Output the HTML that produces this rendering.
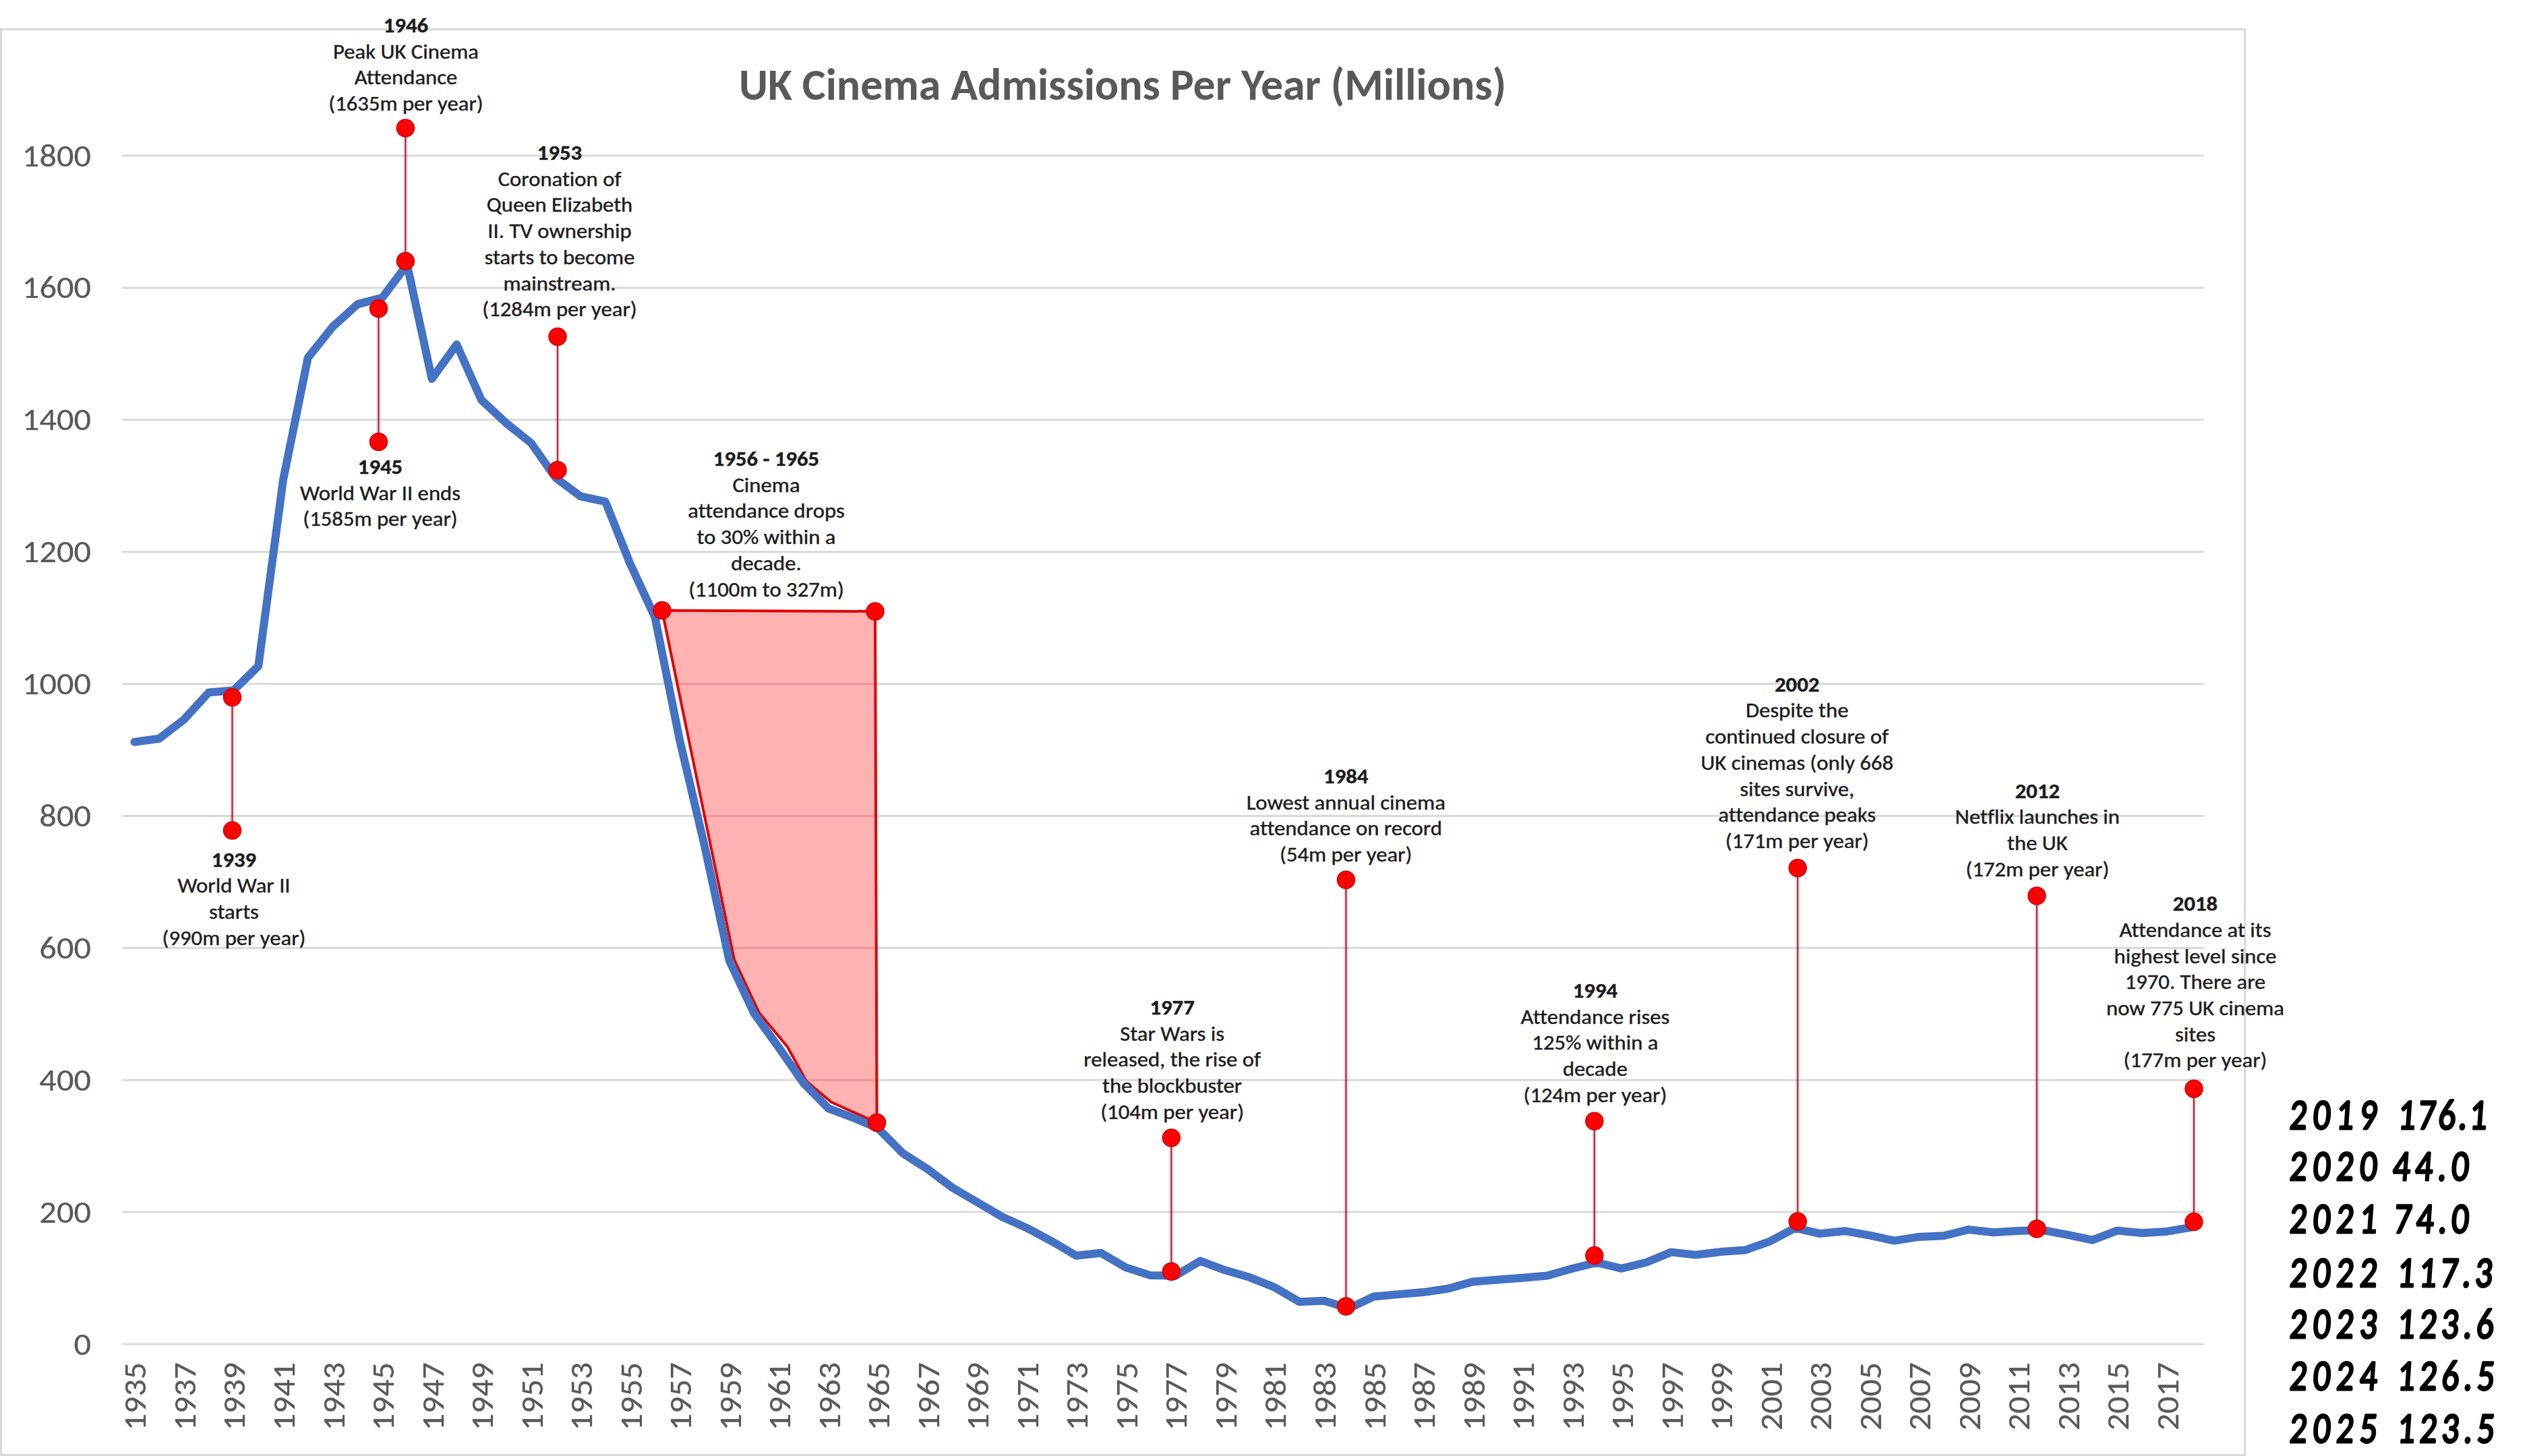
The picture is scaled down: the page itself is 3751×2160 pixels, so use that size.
<!DOCTYPE html>
<html><head><meta charset="utf-8"><title>UK Cinema Admissions Per Year</title>
<style>html,body{margin:0;padding:0;background:#fff;}body{width:3751px;height:2160px;overflow:hidden;}svg{display:block;}text{font-variant-ligatures:none;font-feature-settings:"liga" 0,"clig" 0;}</style>
</head><body>
<svg width="3751" height="2160" viewBox="0 0 3751 2160">
<rect x="1.5" y="43.5" width="3328" height="2115" fill="#fff" stroke="#d9d9d9" stroke-width="3"/>
<line x1="181.0" y1="1994.0" x2="3269.0" y2="1994.0" stroke="#d9d9d9" stroke-width="3"/>
<line x1="181.0" y1="1798.1" x2="3269.0" y2="1798.1" stroke="#d9d9d9" stroke-width="3"/>
<line x1="181.0" y1="1602.2" x2="3269.0" y2="1602.2" stroke="#d9d9d9" stroke-width="3"/>
<line x1="181.0" y1="1406.3" x2="3269.0" y2="1406.3" stroke="#d9d9d9" stroke-width="3"/>
<line x1="181.0" y1="1210.4" x2="3269.0" y2="1210.4" stroke="#d9d9d9" stroke-width="3"/>
<line x1="181.0" y1="1014.6" x2="3269.0" y2="1014.6" stroke="#d9d9d9" stroke-width="3"/>
<line x1="181.0" y1="818.7" x2="3269.0" y2="818.7" stroke="#d9d9d9" stroke-width="3"/>
<line x1="181.0" y1="622.8" x2="3269.0" y2="622.8" stroke="#d9d9d9" stroke-width="3"/>
<line x1="181.0" y1="426.9" x2="3269.0" y2="426.9" stroke="#d9d9d9" stroke-width="3"/>
<line x1="181.0" y1="231.0" x2="3269.0" y2="231.0" stroke="#d9d9d9" stroke-width="3"/>
<g font-family="Carlito, 'Liberation Sans', sans-serif" font-size="48" fill="#595959" text-anchor="end" stroke="#595959" stroke-width="0.2">
<text transform="translate(135,2009.5) scale(1.05,1)" textLength="24.3" lengthAdjust="spacingAndGlyphs">0</text>
<text transform="translate(135,1813.6) scale(1.05,1)" textLength="73.0" lengthAdjust="spacingAndGlyphs">200</text>
<text transform="translate(135,1617.7) scale(1.05,1)" textLength="73.0" lengthAdjust="spacingAndGlyphs">400</text>
<text transform="translate(135,1421.8) scale(1.05,1)" textLength="73.0" lengthAdjust="spacingAndGlyphs">600</text>
<text transform="translate(135,1225.9) scale(1.05,1)" textLength="73.0" lengthAdjust="spacingAndGlyphs">800</text>
<text transform="translate(135,1030.1) scale(1.05,1)" textLength="97.3" lengthAdjust="spacingAndGlyphs">1000</text>
<text transform="translate(135,834.2) scale(1.05,1)" textLength="97.3" lengthAdjust="spacingAndGlyphs">1200</text>
<text transform="translate(135,638.3) scale(1.05,1)" textLength="97.3" lengthAdjust="spacingAndGlyphs">1400</text>
<text transform="translate(135,442.4) scale(1.05,1)" textLength="97.3" lengthAdjust="spacingAndGlyphs">1600</text>
<text transform="translate(135,246.5) scale(1.05,1)" textLength="97.3" lengthAdjust="spacingAndGlyphs">1800</text>
</g>
<g font-family="Carlito, 'Liberation Sans', sans-serif" font-size="48" fill="#595959" text-anchor="end" stroke="#595959" stroke-width="0.2">
<text transform="translate(216.4,2021) rotate(-90) scale(1.04,1)" textLength="97.3" lengthAdjust="spacingAndGlyphs">1935</text>
<text transform="translate(289.9,2021) rotate(-90) scale(1.04,1)" textLength="97.3" lengthAdjust="spacingAndGlyphs">1937</text>
<text transform="translate(363.4,2021) rotate(-90) scale(1.04,1)" textLength="97.3" lengthAdjust="spacingAndGlyphs">1939</text>
<text transform="translate(437.0,2021) rotate(-90) scale(1.04,1)" textLength="97.3" lengthAdjust="spacingAndGlyphs">1941</text>
<text transform="translate(510.5,2021) rotate(-90) scale(1.04,1)" textLength="97.3" lengthAdjust="spacingAndGlyphs">1943</text>
<text transform="translate(584.0,2021) rotate(-90) scale(1.04,1)" textLength="97.3" lengthAdjust="spacingAndGlyphs">1945</text>
<text transform="translate(657.5,2021) rotate(-90) scale(1.04,1)" textLength="97.3" lengthAdjust="spacingAndGlyphs">1947</text>
<text transform="translate(731.0,2021) rotate(-90) scale(1.04,1)" textLength="97.3" lengthAdjust="spacingAndGlyphs">1949</text>
<text transform="translate(804.6,2021) rotate(-90) scale(1.04,1)" textLength="97.3" lengthAdjust="spacingAndGlyphs">1951</text>
<text transform="translate(878.1,2021) rotate(-90) scale(1.04,1)" textLength="97.3" lengthAdjust="spacingAndGlyphs">1953</text>
<text transform="translate(951.6,2021) rotate(-90) scale(1.04,1)" textLength="97.3" lengthAdjust="spacingAndGlyphs">1955</text>
<text transform="translate(1025.1,2021) rotate(-90) scale(1.04,1)" textLength="97.3" lengthAdjust="spacingAndGlyphs">1957</text>
<text transform="translate(1098.7,2021) rotate(-90) scale(1.04,1)" textLength="97.3" lengthAdjust="spacingAndGlyphs">1959</text>
<text transform="translate(1172.2,2021) rotate(-90) scale(1.04,1)" textLength="97.3" lengthAdjust="spacingAndGlyphs">1961</text>
<text transform="translate(1245.7,2021) rotate(-90) scale(1.04,1)" textLength="97.3" lengthAdjust="spacingAndGlyphs">1963</text>
<text transform="translate(1319.2,2021) rotate(-90) scale(1.04,1)" textLength="97.3" lengthAdjust="spacingAndGlyphs">1965</text>
<text transform="translate(1392.8,2021) rotate(-90) scale(1.04,1)" textLength="97.3" lengthAdjust="spacingAndGlyphs">1967</text>
<text transform="translate(1466.3,2021) rotate(-90) scale(1.04,1)" textLength="97.3" lengthAdjust="spacingAndGlyphs">1969</text>
<text transform="translate(1539.8,2021) rotate(-90) scale(1.04,1)" textLength="97.3" lengthAdjust="spacingAndGlyphs">1971</text>
<text transform="translate(1613.3,2021) rotate(-90) scale(1.04,1)" textLength="97.3" lengthAdjust="spacingAndGlyphs">1973</text>
<text transform="translate(1686.9,2021) rotate(-90) scale(1.04,1)" textLength="97.3" lengthAdjust="spacingAndGlyphs">1975</text>
<text transform="translate(1760.4,2021) rotate(-90) scale(1.04,1)" textLength="97.3" lengthAdjust="spacingAndGlyphs">1977</text>
<text transform="translate(1833.9,2021) rotate(-90) scale(1.04,1)" textLength="97.3" lengthAdjust="spacingAndGlyphs">1979</text>
<text transform="translate(1907.4,2021) rotate(-90) scale(1.04,1)" textLength="97.3" lengthAdjust="spacingAndGlyphs">1981</text>
<text transform="translate(1981.0,2021) rotate(-90) scale(1.04,1)" textLength="97.3" lengthAdjust="spacingAndGlyphs">1983</text>
<text transform="translate(2054.5,2021) rotate(-90) scale(1.04,1)" textLength="97.3" lengthAdjust="spacingAndGlyphs">1985</text>
<text transform="translate(2128.0,2021) rotate(-90) scale(1.04,1)" textLength="97.3" lengthAdjust="spacingAndGlyphs">1987</text>
<text transform="translate(2201.5,2021) rotate(-90) scale(1.04,1)" textLength="97.3" lengthAdjust="spacingAndGlyphs">1989</text>
<text transform="translate(2275.0,2021) rotate(-90) scale(1.04,1)" textLength="97.3" lengthAdjust="spacingAndGlyphs">1991</text>
<text transform="translate(2348.6,2021) rotate(-90) scale(1.04,1)" textLength="97.3" lengthAdjust="spacingAndGlyphs">1993</text>
<text transform="translate(2422.1,2021) rotate(-90) scale(1.04,1)" textLength="97.3" lengthAdjust="spacingAndGlyphs">1995</text>
<text transform="translate(2495.6,2021) rotate(-90) scale(1.04,1)" textLength="97.3" lengthAdjust="spacingAndGlyphs">1997</text>
<text transform="translate(2569.1,2021) rotate(-90) scale(1.04,1)" textLength="97.3" lengthAdjust="spacingAndGlyphs">1999</text>
<text transform="translate(2642.7,2021) rotate(-90) scale(1.04,1)" textLength="97.3" lengthAdjust="spacingAndGlyphs">2001</text>
<text transform="translate(2716.2,2021) rotate(-90) scale(1.04,1)" textLength="97.3" lengthAdjust="spacingAndGlyphs">2003</text>
<text transform="translate(2789.7,2021) rotate(-90) scale(1.04,1)" textLength="97.3" lengthAdjust="spacingAndGlyphs">2005</text>
<text transform="translate(2863.2,2021) rotate(-90) scale(1.04,1)" textLength="97.3" lengthAdjust="spacingAndGlyphs">2007</text>
<text transform="translate(2936.8,2021) rotate(-90) scale(1.04,1)" textLength="97.3" lengthAdjust="spacingAndGlyphs">2009</text>
<text transform="translate(3010.3,2021) rotate(-90) scale(1.04,1)" textLength="97.3" lengthAdjust="spacingAndGlyphs">2011</text>
<text transform="translate(3083.8,2021) rotate(-90) scale(1.04,1)" textLength="97.3" lengthAdjust="spacingAndGlyphs">2013</text>
<text transform="translate(3157.3,2021) rotate(-90) scale(1.04,1)" textLength="97.3" lengthAdjust="spacingAndGlyphs">2015</text>
<text transform="translate(3230.9,2021) rotate(-90) scale(1.04,1)" textLength="97.3" lengthAdjust="spacingAndGlyphs">2017</text>
</g>
<text x="1665" y="147.5" font-family="Carlito, 'Liberation Sans', sans-serif" font-size="67" font-weight="bold" fill="#595959" text-anchor="middle" textLength="1138" lengthAdjust="spacingAndGlyphs">UK Cinema Admissions Per Year (Millions)</text>
<polygon points="982,905.5 1298,907 1300.6,1665.5 1233,1635 1196,1604 1168,1553 1126,1502.5 1089,1423.7" fill="#ff0000" fill-opacity="0.3" stroke="#e00000" stroke-width="4" stroke-linejoin="round"/>
<polyline points="199.4,1100.7 236.1,1095.8 272.9,1067.4 309.7,1027.3 346.4,1024.3 383.2,988.1 420.0,711.9 456.7,530.7 493.5,484.7 530.2,451.4 567.0,441.6 603.8,392.6 640.5,562.1 677.3,511.1 714.0,593.4 750.8,627.7 787.6,657.1 824.3,709.0 861.1,736.4 897.9,744.2 934.6,836.3 971.4,915.6 1008.1,1097.8 1044.9,1254.5 1081.7,1424.9 1118.4,1503.3 1155.2,1554.2 1192.0,1607.1 1228.7,1644.3 1265.5,1658.1 1302.2,1673.7 1339.0,1710.9 1375.8,1734.4 1412.5,1761.9 1449.3,1783.4 1486.0,1805.0 1522.8,1821.6 1559.6,1841.2 1596.3,1862.8 1633.1,1858.8 1669.9,1880.4 1706.6,1892.1 1743.4,1892.6 1780.1,1870.6 1816.9,1884.3 1853.7,1895.1 1890.4,1909.8 1927.2,1931.3 1964.0,1929.7 2000.7,1941.1 2037.5,1923.5 2074.2,1920.1 2111.0,1917.1 2147.8,1911.7 2184.5,1901.4 2221.3,1898.6 2258.0,1895.8 2294.8,1892.5 2331.6,1882.0 2368.3,1873.0 2405.1,1881.8 2441.9,1872.7 2478.6,1857.6 2515.4,1861.6 2552.1,1857.1 2588.9,1854.4 2625.7,1841.3 2662.4,1821.7 2699.2,1830.1 2736.0,1826.2 2772.7,1832.7 2809.5,1840.6 2846.2,1834.9 2883.0,1833.2 2919.8,1824.1 2956.5,1828.3 2993.3,1825.9 3030.0,1825.0 3066.8,1831.9 3103.6,1839.7 3140.3,1825.6 3177.1,1829.2 3213.9,1826.9 3250.6,1820.6" fill="none" stroke="#4472c4" stroke-width="12" stroke-linejoin="round" stroke-linecap="round"/>
<line x1="344.5" y1="1034.5" x2="344.5" y2="1232" stroke="#f03030" stroke-opacity="0.18" stroke-width="7"/>
<line x1="344.5" y1="1034.5" x2="344.5" y2="1232" stroke="#8e3446" stroke-width="2.2"/>
<line x1="561.5" y1="457.7" x2="561.5" y2="655.5" stroke="#f03030" stroke-opacity="0.18" stroke-width="7"/>
<line x1="561.5" y1="457.7" x2="561.5" y2="655.5" stroke="#8e3446" stroke-width="2.2"/>
<line x1="601.4" y1="190" x2="601.4" y2="387.4" stroke="#f03030" stroke-opacity="0.18" stroke-width="7"/>
<line x1="601.4" y1="190" x2="601.4" y2="387.4" stroke="#8e3446" stroke-width="2.2"/>
<line x1="827" y1="499.5" x2="827" y2="697.5" stroke="#f03030" stroke-opacity="0.18" stroke-width="7"/>
<line x1="827" y1="499.5" x2="827" y2="697.5" stroke="#8e3446" stroke-width="2.2"/>
<line x1="1737.3" y1="1688" x2="1737.3" y2="1886.3" stroke="#f03030" stroke-opacity="0.18" stroke-width="7"/>
<line x1="1737.3" y1="1688" x2="1737.3" y2="1886.3" stroke="#8e3446" stroke-width="2.2"/>
<line x1="1996.4" y1="1305.3" x2="1996.4" y2="1938" stroke="#f03030" stroke-opacity="0.18" stroke-width="7"/>
<line x1="1996.4" y1="1305.3" x2="1996.4" y2="1938" stroke="#8e3446" stroke-width="2.2"/>
<line x1="2364.8" y1="1663.3" x2="2364.8" y2="1862.6" stroke="#f03030" stroke-opacity="0.18" stroke-width="7"/>
<line x1="2364.8" y1="1663.3" x2="2364.8" y2="1862.6" stroke="#8e3446" stroke-width="2.2"/>
<line x1="2666.3" y1="1287.7" x2="2666.3" y2="1812" stroke="#f03030" stroke-opacity="0.18" stroke-width="7"/>
<line x1="2666.3" y1="1287.7" x2="2666.3" y2="1812" stroke="#8e3446" stroke-width="2.2"/>
<line x1="3021" y1="1329" x2="3021" y2="1823" stroke="#f03030" stroke-opacity="0.18" stroke-width="7"/>
<line x1="3021" y1="1329" x2="3021" y2="1823" stroke="#8e3446" stroke-width="2.2"/>
<line x1="3254" y1="1615.2" x2="3254" y2="1812.6" stroke="#f03030" stroke-opacity="0.18" stroke-width="7"/>
<line x1="3254" y1="1615.2" x2="3254" y2="1812.6" stroke="#8e3446" stroke-width="2.2"/>
<circle cx="344.5" cy="1034.5" r="13" fill="#ff0000" stroke="#d00000" stroke-width="1.5"/>
<circle cx="344.5" cy="1232" r="13" fill="#ff0000" stroke="#d00000" stroke-width="1.5"/>
<circle cx="561.5" cy="457.7" r="13" fill="#ff0000" stroke="#d00000" stroke-width="1.5"/>
<circle cx="561.5" cy="655.5" r="13" fill="#ff0000" stroke="#d00000" stroke-width="1.5"/>
<circle cx="601.4" cy="190" r="13" fill="#ff0000" stroke="#d00000" stroke-width="1.5"/>
<circle cx="601.4" cy="387.4" r="13" fill="#ff0000" stroke="#d00000" stroke-width="1.5"/>
<circle cx="827" cy="499.5" r="13" fill="#ff0000" stroke="#d00000" stroke-width="1.5"/>
<circle cx="827" cy="697.5" r="13" fill="#ff0000" stroke="#d00000" stroke-width="1.5"/>
<circle cx="1737.3" cy="1688" r="13" fill="#ff0000" stroke="#d00000" stroke-width="1.5"/>
<circle cx="1737.3" cy="1886.3" r="13" fill="#ff0000" stroke="#d00000" stroke-width="1.5"/>
<circle cx="1996.4" cy="1305.3" r="13" fill="#ff0000" stroke="#d00000" stroke-width="1.5"/>
<circle cx="1996.4" cy="1938" r="13" fill="#ff0000" stroke="#d00000" stroke-width="1.5"/>
<circle cx="2364.8" cy="1663.3" r="13" fill="#ff0000" stroke="#d00000" stroke-width="1.5"/>
<circle cx="2364.8" cy="1862.6" r="13" fill="#ff0000" stroke="#d00000" stroke-width="1.5"/>
<circle cx="2666.3" cy="1287.7" r="13" fill="#ff0000" stroke="#d00000" stroke-width="1.5"/>
<circle cx="2666.3" cy="1812" r="13" fill="#ff0000" stroke="#d00000" stroke-width="1.5"/>
<circle cx="3021" cy="1329" r="13" fill="#ff0000" stroke="#d00000" stroke-width="1.5"/>
<circle cx="3021" cy="1823" r="13" fill="#ff0000" stroke="#d00000" stroke-width="1.5"/>
<circle cx="3254" cy="1615.2" r="13" fill="#ff0000" stroke="#d00000" stroke-width="1.5"/>
<circle cx="3254" cy="1812.6" r="13" fill="#ff0000" stroke="#d00000" stroke-width="1.5"/>
<circle cx="982" cy="905.5" r="13" fill="#ff0000" stroke="#d00000" stroke-width="1.5"/>
<circle cx="1298" cy="907" r="13" fill="#ff0000" stroke="#d00000" stroke-width="1.5"/>
<circle cx="1300.6" cy="1665.5" r="13" fill="#ff0000" stroke="#d00000" stroke-width="1.5"/>
<g font-family="Carlito, 'Liberation Sans', sans-serif" font-size="30" fill="#1c1c1c" text-anchor="middle" stroke="#1c1c1c" stroke-width="0.4">
<text transform="translate(602,48.0) scale(1.09,1)" font-weight="bold" textLength="60.8" lengthAdjust="spacingAndGlyphs">1946</text>
<text transform="translate(602,86.7) scale(1.09,1)" textLength="198.0" lengthAdjust="spacingAndGlyphs">Peak UK Cinema</text>
<text transform="translate(602,125.4) scale(1.09,1)" textLength="140.1" lengthAdjust="spacingAndGlyphs">Attendance</text>
<text transform="translate(602,164.1) scale(1.09,1)" textLength="210.5" lengthAdjust="spacingAndGlyphs">(1635m per year)</text>
<text transform="translate(830,237.0) scale(1.09,1)" font-weight="bold" textLength="60.8" lengthAdjust="spacingAndGlyphs">1953</text>
<text transform="translate(830,275.7) scale(1.09,1)" textLength="167.6" lengthAdjust="spacingAndGlyphs">Coronation of</text>
<text transform="translate(830,314.4) scale(1.09,1)" textLength="198.7" lengthAdjust="spacingAndGlyphs">Queen Elizabeth</text>
<text transform="translate(830,353.1) scale(1.09,1)" textLength="195.7" lengthAdjust="spacingAndGlyphs">II. TV ownership</text>
<text transform="translate(830,391.8) scale(1.09,1)" textLength="204.6" lengthAdjust="spacingAndGlyphs">starts to become</text>
<text transform="translate(830,430.5) scale(1.09,1)" textLength="153.2" lengthAdjust="spacingAndGlyphs">mainstream.</text>
<text transform="translate(830,469.2) scale(1.09,1)" textLength="210.5" lengthAdjust="spacingAndGlyphs">(1284m per year)</text>
<text transform="translate(564,703.0) scale(1.09,1)" font-weight="bold" textLength="60.8" lengthAdjust="spacingAndGlyphs">1945</text>
<text transform="translate(564,741.7) scale(1.09,1)" textLength="218.4" lengthAdjust="spacingAndGlyphs">World War II ends</text>
<text transform="translate(564,780.4) scale(1.09,1)" textLength="210.5" lengthAdjust="spacingAndGlyphs">(1585m per year)</text>
<text transform="translate(347,1285.5) scale(1.09,1)" font-weight="bold" textLength="60.8" lengthAdjust="spacingAndGlyphs">1939</text>
<text transform="translate(347,1324.2) scale(1.09,1)" textLength="153.4" lengthAdjust="spacingAndGlyphs">World War II</text>
<text transform="translate(347,1362.9) scale(1.09,1)" textLength="67.7" lengthAdjust="spacingAndGlyphs">starts</text>
<text transform="translate(347,1401.6) scale(1.09,1)" textLength="195.3" lengthAdjust="spacingAndGlyphs">(990m per year)</text>
<text transform="translate(1136.5,691.0) scale(1.09,1)" font-weight="bold" textLength="144.3" lengthAdjust="spacingAndGlyphs">1956 - 1965</text>
<text transform="translate(1136.5,729.7) scale(1.09,1)" textLength="91.9" lengthAdjust="spacingAndGlyphs">Cinema</text>
<text transform="translate(1136.5,768.4) scale(1.09,1)" textLength="213.2" lengthAdjust="spacingAndGlyphs">attendance drops</text>
<text transform="translate(1136.5,807.1) scale(1.09,1)" textLength="188.8" lengthAdjust="spacingAndGlyphs">to 30% within a</text>
<text transform="translate(1136.5,845.8) scale(1.09,1)" textLength="95.7" lengthAdjust="spacingAndGlyphs">decade.</text>
<text transform="translate(1136.5,884.5) scale(1.09,1)" textLength="211.6" lengthAdjust="spacingAndGlyphs">(1100m to 327m)</text>
<text transform="translate(1738.6,1505.0) scale(1.09,1)" font-weight="bold" textLength="60.8" lengthAdjust="spacingAndGlyphs">1977</text>
<text transform="translate(1738.6,1543.7) scale(1.09,1)" textLength="142.1" lengthAdjust="spacingAndGlyphs">Star Wars is</text>
<text transform="translate(1738.6,1582.4) scale(1.09,1)" textLength="241.0" lengthAdjust="spacingAndGlyphs">released, the rise of</text>
<text transform="translate(1738.6,1621.1) scale(1.09,1)" textLength="190.2" lengthAdjust="spacingAndGlyphs">the blockbuster</text>
<text transform="translate(1738.6,1659.8) scale(1.09,1)" textLength="195.3" lengthAdjust="spacingAndGlyphs">(104m per year)</text>
<text transform="translate(1996.2,1161.8) scale(1.09,1)" font-weight="bold" textLength="60.8" lengthAdjust="spacingAndGlyphs">1984</text>
<text transform="translate(1996.2,1200.5) scale(1.09,1)" textLength="270.8" lengthAdjust="spacingAndGlyphs">Lowest annual cinema</text>
<text transform="translate(1996.2,1239.2) scale(1.09,1)" textLength="261.7" lengthAdjust="spacingAndGlyphs">attendance on record</text>
<text transform="translate(1996.2,1277.9) scale(1.09,1)" textLength="180.1" lengthAdjust="spacingAndGlyphs">(54m per year)</text>
<text transform="translate(2365.9,1480.0) scale(1.09,1)" font-weight="bold" textLength="60.8" lengthAdjust="spacingAndGlyphs">1994</text>
<text transform="translate(2365.9,1518.7) scale(1.09,1)" textLength="202.5" lengthAdjust="spacingAndGlyphs">Attendance rises</text>
<text transform="translate(2365.9,1557.4) scale(1.09,1)" textLength="171.7" lengthAdjust="spacingAndGlyphs">125% within a</text>
<text transform="translate(2365.9,1596.1) scale(1.09,1)" textLength="88.1" lengthAdjust="spacingAndGlyphs">decade</text>
<text transform="translate(2365.9,1634.8) scale(1.09,1)" textLength="195.3" lengthAdjust="spacingAndGlyphs">(124m per year)</text>
<text transform="translate(2665.4,1025.7) scale(1.09,1)" font-weight="bold" textLength="60.8" lengthAdjust="spacingAndGlyphs">2002</text>
<text transform="translate(2665.4,1064.4) scale(1.09,1)" textLength="139.9" lengthAdjust="spacingAndGlyphs">Despite the</text>
<text transform="translate(2665.4,1103.1) scale(1.09,1)" textLength="249.2" lengthAdjust="spacingAndGlyphs">continued closure of</text>
<text transform="translate(2665.4,1141.8) scale(1.09,1)" textLength="262.1" lengthAdjust="spacingAndGlyphs">UK cinemas (only 668</text>
<text transform="translate(2665.4,1180.5) scale(1.09,1)" textLength="156.0" lengthAdjust="spacingAndGlyphs">sites survive,</text>
<text transform="translate(2665.4,1219.2) scale(1.09,1)" textLength="214.4" lengthAdjust="spacingAndGlyphs">attendance peaks</text>
<text transform="translate(2665.4,1257.9) scale(1.09,1)" textLength="195.3" lengthAdjust="spacingAndGlyphs">(171m per year)</text>
<text transform="translate(3021.9,1183.5) scale(1.09,1)" font-weight="bold" textLength="60.8" lengthAdjust="spacingAndGlyphs">2012</text>
<text transform="translate(3021.9,1222.2) scale(1.09,1)" textLength="224.1" lengthAdjust="spacingAndGlyphs">Netflix launches in</text>
<text transform="translate(3021.9,1260.9) scale(1.09,1)" textLength="82.3" lengthAdjust="spacingAndGlyphs">the UK</text>
<text transform="translate(3021.9,1299.6) scale(1.09,1)" textLength="195.3" lengthAdjust="spacingAndGlyphs">(172m per year)</text>
<text transform="translate(3256,1351.2) scale(1.09,1)" font-weight="bold" textLength="60.8" lengthAdjust="spacingAndGlyphs">2018</text>
<text transform="translate(3256,1389.9) scale(1.09,1)" textLength="206.4" lengthAdjust="spacingAndGlyphs">Attendance at its</text>
<text transform="translate(3256,1428.6) scale(1.09,1)" textLength="221.1" lengthAdjust="spacingAndGlyphs">highest level since</text>
<text transform="translate(3256,1467.3) scale(1.09,1)" textLength="191.5" lengthAdjust="spacingAndGlyphs">1970. There are</text>
<text transform="translate(3256,1506.0) scale(1.09,1)" textLength="242.1" lengthAdjust="spacingAndGlyphs">now 775 UK cinema</text>
<text transform="translate(3256,1544.7) scale(1.09,1)" textLength="55.0" lengthAdjust="spacingAndGlyphs">sites</text>
<text transform="translate(3256,1583.4) scale(1.09,1)" textLength="195.3" lengthAdjust="spacingAndGlyphs">(177m per year)</text>
</g>
<g font-family="Carlito, 'Liberation Sans', sans-serif" font-size="64" fill="#000" stroke="#000" stroke-width="3.2" stroke-linejoin="round">
<text transform="translate(3395,1675.2) skewX(-4) scale(0.8,1)" textLength="162.5" lengthAdjust="spacing">2019</text>
<text transform="translate(3556,1675.2) skewX(-4) scale(0.8,1)" textLength="165.0" lengthAdjust="spacing">176.1</text>
<text transform="translate(3395,1751.2) skewX(-4) scale(0.8,1)" textLength="162.5" lengthAdjust="spacing">2020</text>
<text transform="translate(3548,1751.2) skewX(-4) scale(0.8,1)" textLength="141.2" lengthAdjust="spacing">44.0</text>
<text transform="translate(3395,1829.2) skewX(-4) scale(0.8,1)" textLength="162.5" lengthAdjust="spacing">2021</text>
<text transform="translate(3550,1829.2) skewX(-4) scale(0.8,1)" textLength="138.8" lengthAdjust="spacing">74.0</text>
<text transform="translate(3395,1909.2) skewX(-4) scale(0.8,1)" textLength="162.5" lengthAdjust="spacing">2022</text>
<text transform="translate(3555,1909.2) skewX(-4) scale(0.8,1)" textLength="176.2" lengthAdjust="spacing">117.3</text>
<text transform="translate(3395,1984.7) skewX(-4) scale(0.8,1)" textLength="162.5" lengthAdjust="spacing">2023</text>
<text transform="translate(3555,1984.7) skewX(-4) scale(0.8,1)" textLength="178.8" lengthAdjust="spacing">123.6</text>
<text transform="translate(3395,2061.8) skewX(-4) scale(0.8,1)" textLength="162.5" lengthAdjust="spacing">2024</text>
<text transform="translate(3555,2061.8) skewX(-4) scale(0.8,1)" textLength="180.0" lengthAdjust="spacing">126.5</text>
<text transform="translate(3395,2139.6) skewX(-4) scale(0.8,1)" textLength="162.5" lengthAdjust="spacing">2025</text>
<text transform="translate(3555,2139.6) skewX(-4) scale(0.8,1)" textLength="180.0" lengthAdjust="spacing">123.5</text>
</g>
</svg>
</body></html>
